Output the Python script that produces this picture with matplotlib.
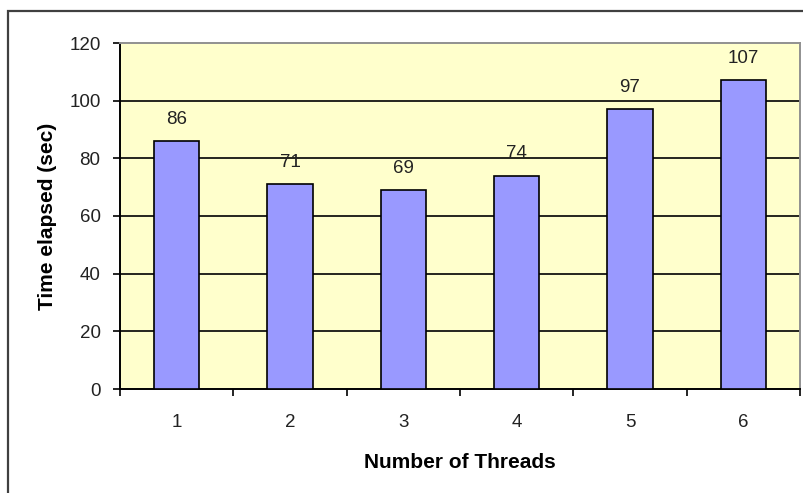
import matplotlib
matplotlib.use("Agg")
import matplotlib.pyplot as plt
from matplotlib.patches import Rectangle

plt.rcParams['font.family'] = ['Liberation Sans', 'DejaVu Sans']

threads = ["1", "2", "3", "4", "5", "6"]
elapsed = [86, 71, 69, 74, 97, 107]
y_ticks = [0, 20, 40, 60, 80, 100, 120]

fig = plt.figure(figsize=(8.04, 4.93), dpi=100)

# outer chart frame (left/top edges visible, rest runs past the canvas)
fig.patches.append(Rectangle((8 / 804, -0.1), 1.2, (493 - 11) / 493 + 0.1,
                             transform=fig.transFigure, fill=False,
                             edgecolor="#404040", linewidth=1.6, zorder=0))

ax = fig.add_axes([120 / 804, (493 - 389) / 493, 680 / 804, 346 / 493])
ax.set_facecolor("#FFFFCC")

x = list(range(len(threads)))
ax.bar(x, elapsed, width=0.4, color="#9999FF", edgecolor="black",
       linewidth=1.2, zorder=3)

for xi, v in zip(x, elapsed):
    ax.annotate(str(v), (xi, v), xytext=(0, 9.5), textcoords="offset points",
                ha="center", va="bottom", fontsize=13.5, color="#222222")

ax.set_xlim(-0.5, len(threads) - 0.5)
ax.set_ylim(0, 120)
ax.set_yticks(y_ticks)
ax.set_yticklabels([str(t) for t in y_ticks], fontsize=13.5, color="#222222")
ax.set_xticks(x)
ax.set_xticklabels(threads, fontsize=13.5, color="#222222")
ax.tick_params(axis="x", length=0, pad=18)
ax.set_xticks([i + 0.5 for i in range(-1, len(threads))], minor=True)
ax.tick_params(axis="x", which="minor", length=5, width=1.2, color="black")
ax.tick_params(axis="y", length=5, width=1.2, pad=9, color="black")

for t in y_ticks[1:-1]:
    ax.axhline(t, color="black", linewidth=1.2, zorder=1)

for side in ["left", "bottom"]:
    ax.spines[side].set_color("black")
    ax.spines[side].set_linewidth(1.4)
for side in ["top", "right"]:
    ax.spines[side].set_color("#909090")
    ax.spines[side].set_linewidth(1.4)

ax.set_xlabel("Number of Threads", fontsize=15, fontweight="bold", labelpad=16)
ax.set_ylabel("Time elapsed (sec)", fontsize=15, fontweight="bold", labelpad=9)

fig.savefig("out.png", dpi=100)
